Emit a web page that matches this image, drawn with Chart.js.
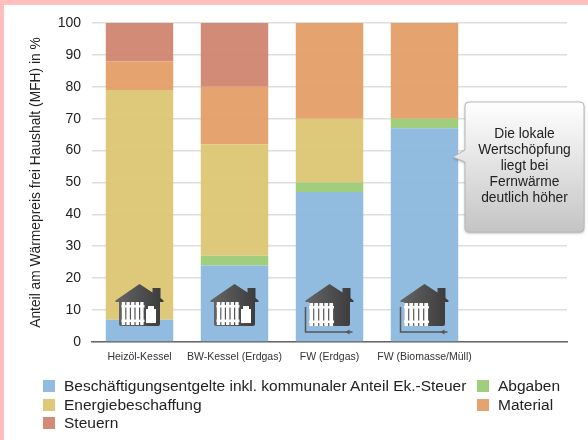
<!DOCTYPE html>
<html>
<head>
<meta charset="utf-8">
<script src="https://cdn.jsdelivr.net/npm/chart.js@4"></script>
<style>
    html, body { margin: 0; padding: 0; }
    body { width: 588px; height: 440px; background: #FFBFBF; position: relative; overflow: hidden; font-family: "Liberation Sans", Arial, sans-serif; }
    #sheet { position: absolute; left: 4px; top: 5px; right: 0; bottom: 0; background: #fff; }
    #chartMain { position: absolute; left: 0; top: 0; }
    #legend { position: absolute; left: 43px; top: 377px; display: grid; grid-template-columns: 434px auto; grid-auto-rows: 18.5px; font-size: 15.5px; color: #222; }
    #legend div { display: flex; align-items: center; white-space: nowrap; }
    #legend i { width: 12px; height: 12px; margin-right: 9px; display: block; }
</style>
</head>
<body>
<div id="sheet"></div>
<canvas id="chartMain" width="588" height="440"></canvas>
<div id="legend"></div>
<script>
const categories = ['Heizöl-Kessel', 'BW-Kessel (Erdgas)', 'FW (Erdgas)', 'FW (Biomasse/Müll)', ''];
const entgelte = [7, 24, 47, 67, null];
const abgaben = [0, 3, 3, 3, null];
const energie = [72, 35, 20, 0, null];
const material = [9, 18, 30, 30, null];
const steuern = [12, 20, 0, 0, null];
const iconTypes = ['kessel', 'kessel', 'fw', 'fw'];
const calloutLines = ['Die lokale', 'Wertschöpfung', 'liegt bei', 'Fernwärme', 'deutlich höher'];

const series = [
    { label: 'Beschäftigungsentgelte inkl. kommunaler Anteil Ek.-Steuer', data: entgelte, backgroundColor: 'rgba(140,183,222,0.95)' },
    { label: 'Abgaben', data: abgaben, backgroundColor: 'rgba(155,203,118,0.95)' },
    { label: 'Energiebeschaffung', data: energie, backgroundColor: 'rgba(220,198,115,0.95)' },
    { label: 'Material', data: material, backgroundColor: 'rgba(228,158,103,0.95)' },
    { label: 'Steuern', data: steuern, backgroundColor: 'rgba(207,133,111,0.95)' }
];

function drawRadiator(ctx, left, top, width, height) {
    const ribs = 5;
    const step = width / ribs;
    ctx.fillStyle = '#fff';
    ctx.fillRect(left, top + 3, width, 2.5);
    ctx.fillRect(left, top + height - 5.5, width, 2.5);
    for (let i = 0; i < ribs; i++) {
        ctx.fillRect(left + i * step + 0.3, top, step - 1.2, height);
    }
}

function drawHouse(ctx, type) {
    // origin: middle of the bar, bottom of the house
    const g = ctx.createLinearGradient(-24, 0, 24, 0);
    g.addColorStop(0, '#666');
    g.addColorStop(1, '#3a3a3a');
    ctx.fillStyle = g;
    ctx.beginPath();
    ctx.moveTo(0, -42);
    ctx.lineTo(13, -33.5);
    ctx.lineTo(13, -38);
    ctx.lineTo(21, -38);
    ctx.lineTo(21, -28);
    ctx.lineTo(24, -25.5);
    ctx.lineTo(24, -24);
    ctx.lineTo(20.5, -24);
    ctx.lineTo(20.5, -2);
    ctx.quadraticCurveTo(20.5, 0, 18.5, 0);
    ctx.lineTo(-18.5, 0);
    ctx.quadraticCurveTo(-20.5, 0, -20.5, -2);
    ctx.lineTo(-20.5, -24);
    ctx.lineTo(-24, -24);
    ctx.lineTo(-24, -25.5);
    ctx.closePath();
    ctx.fill();
    if (type === 'kessel') {
        drawRadiator(ctx, -18, -24, 23, 23);
        ctx.fillStyle = '#fff';
        ctx.fillRect(6.5, -17, 10, 14);
        ctx.fillRect(8.5, -20, 6, 4);
    } else {
        drawRadiator(ctx, -20.5, -23, 25, 23);
        ctx.strokeStyle = '#555';
        ctx.fillStyle = '#555';
        ctx.lineWidth = 1.5;
        ctx.beginPath();
        ctx.moveTo(-24, -19);
        ctx.lineTo(-24, 6);
        ctx.lineTo(23, 6);
        ctx.stroke();
        ctx.beginPath();
        ctx.moveTo(16, 6);
        ctx.lineTo(20, 3.5);
        ctx.lineTo(20, 8.5);
        ctx.closePath();
        ctx.fill();
    }
}

const houseIcons = {
    id: 'houseIcons',
    afterDatasetsDraw(chart) {
        const { ctx, scales } = chart;
        iconTypes.forEach((type, i) => {
            ctx.save();
            ctx.translate(scales.x.getPixelForValue(i), scales.y.getPixelForValue(5));
            drawHouse(ctx, type);
            ctx.restore();
        });
    }
};

const callout = {
    id: 'callout',
    afterDraw(chart) {
        const ctx = chart.ctx;
        const x = 465, y = 102, w = 119, h = 130, r = 4;
        ctx.save();
        ctx.beginPath();
        ctx.moveTo(x + r, y);
        ctx.arcTo(x + w, y, x + w, y + h, r);
        ctx.arcTo(x + w, y + h, x, y + h, r);
        ctx.arcTo(x, y + h, x, y, r);
        ctx.lineTo(x, 162);
        ctx.lineTo(453, 157);
        ctx.lineTo(x, 150);
        ctx.arcTo(x, y, x + w, y, r);
        ctx.closePath();
        const g = ctx.createLinearGradient(0, y, 0, y + h);
        g.addColorStop(0, '#ffffff');
        g.addColorStop(1, '#c4c4c4');
        ctx.shadowColor = 'rgba(0,0,0,0.35)';
        ctx.shadowBlur = 3;
        ctx.shadowOffsetY = 1;
        ctx.fillStyle = g;
        ctx.fill();
        ctx.shadowColor = 'transparent';
        ctx.strokeStyle = '#b8b8b8';
        ctx.lineWidth = 1;
        ctx.stroke();
        ctx.fillStyle = '#222';
        ctx.font = '13.8px "Liberation Sans", Arial, sans-serif';
        ctx.textAlign = 'center';
        ctx.textBaseline = 'middle';
        calloutLines.forEach((line, i) => ctx.fillText(line, x + w / 2, 134.5 + i * 16));
        ctx.restore();
    }
};

new Chart(document.getElementById('chartMain'), {
    type: 'bar',
    data: { labels: categories, datasets: series },
    plugins: [houseIcons, callout],
    options: {
        responsive: false,
        animation: false,
        layout: { padding: { left: 0, top: 23, right: 21, bottom: 0 } },
        datasets: { bar: { categoryPercentage: 1, barPercentage: 0.71 } },
        plugins: { legend: { display: false }, tooltip: { enabled: false } },
        scales: {
            x: {
                stacked: true,
                afterFit: s => { s.height = 98; },
                grid: { display: false },
                border: { color: '#666', width: 1.5 },
                ticks: {
                    color: '#333', maxRotation: 0, autoSkip: false, padding: 1,
                    font: { family: '"Liberation Sans", Arial, sans-serif', size: 10.5 }
                }
            },
            y: {
                stacked: true, min: 0, max: 100,
                afterFit: s => { s.width = 92; },
                grid: { color: '#dedede', lineWidth: 1.6, drawTicks: false },
                border: { display: false },
                ticks: {
                    stepSize: 10, color: '#222', padding: 11,
                    font: { family: '"Liberation Sans", Arial, sans-serif', size: 14 }
                },
                title: {
                    display: true, text: 'Anteil am Wärmepreis frei Haushalt (MFH) in %', color: '#222',
                    padding: { top: 28, bottom: 0 },
                    font: { family: '"Liberation Sans", Arial, sans-serif', size: 13.8 }
                }
            }
        }
    }
});

const legend = document.getElementById('legend');
series.forEach(s => {
    const row = document.createElement('div');
    const box = document.createElement('i');
    box.style.background = s.backgroundColor;
    row.appendChild(box);
    row.appendChild(document.createTextNode(s.label));
    legend.appendChild(row);
});
</script>
</body>
</html>
